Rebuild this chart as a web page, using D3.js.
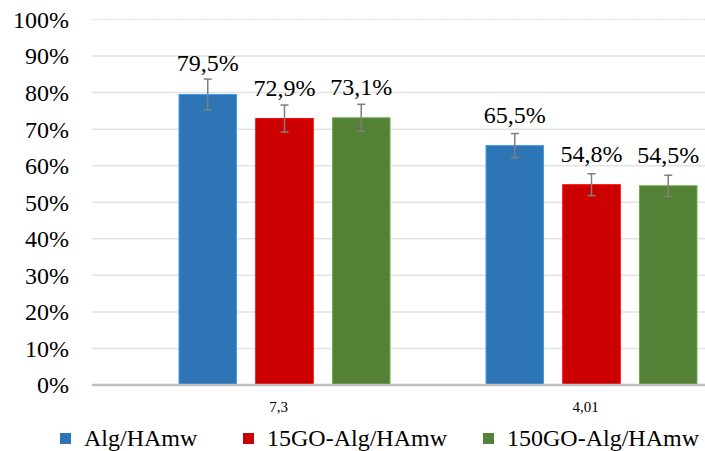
<!DOCTYPE html>
<html>
<head>
<meta charset="utf-8">
<script src="https://cdn.jsdelivr.net/npm/d3@7"></script>
<style>
  html, body { margin: 0; padding: 0; background: #fff; }
  svg text { font-family: 'Liberation Serif', 'Times New Roman', Times, serif; }
</style>
</head>
<body>
<svg id="chart" width="705" height="451"></svg>
<script>
const categories = ["7,3", "4,01"];
const seriesNames = ["Alg/HAmw", "15GO-Alg/HAmw", "150GO-Alg/HAmw"];
const seriesColors = ["#2E75B6", "#CC0000", "#538135"];
const valuesAlg = [79.5, 65.5];
const values15GO = [72.9, 54.8];
const values150GO = [73.1, 54.5];
const errorsAlg = [4.2, 3.3];
const errors15GO = [3.7, 3.0];
const errors150GO = [3.7, 2.9];
const labelsAlg = ["79,5%", "65,5%"];
const labels15GO = ["72,9%", "54,8%"];
const labels150GO = ["73,1%", "54,5%"];
const yTicks = [0, 10, 20, 30, 40, 50, 60, 70, 80, 90, 100];

const seriesValues = [valuesAlg, values15GO, values150GO];
const seriesErrors = [errorsAlg, errors15GO, errors150GO];
const seriesLabels = [labelsAlg, labels15GO, labels150GO];

const data = [];
categories.forEach((c, ci) => {
  seriesNames.forEach((s, si) => {
    data.push({cat: c, series: s, si, value: seriesValues[si][ci], err: seriesErrors[si][ci], label: seriesLabels[si][ci]});
  });
});

const FONT = "'Liberation Serif', 'Times New Roman', serif";
const svg = d3.select("#chart");
const plotLeft = 92, plotRight = 705;

const y = d3.scaleLinear().domain([0, 100]).range([385, 19.5]);
const x0 = d3.scaleBand().domain(categories).range([131, 745]).padding(0);
const x1 = d3.scaleBand().domain(seriesNames).range([48, 259]).paddingInner(0.25).paddingOuter(0);
const color = d3.scaleOrdinal().domain(seriesNames).range(seriesColors);

// gridlines
svg.append("g").selectAll("line").data(yTicks.filter(t => t > 0)).join("line")
  .attr("x1", plotLeft).attr("x2", plotRight)
  .attr("y1", d => y(d)).attr("y2", d => y(d))
  .attr("stroke", "#e3e3e3").attr("stroke-width", 1.5)
  .attr("stroke-dasharray", d => d === 100 ? "2,1" : null);

// y axis labels
const yAxis = d3.axisLeft(y).tickValues(yTicks).tickFormat(d => d + "%").tickSize(0).tickPadding(0);
const yg = svg.append("g").attr("transform", `translate(69,0)`).call(yAxis);
yg.attr("font-family", FONT).attr("font-size", 24);
yg.select(".domain").remove();
yg.selectAll("text").style("font-family", FONT).style("font-size", "24px").attr("fill", "#000")
  .attr("dy", "0.33em");

// bars
const groups = svg.append("g").selectAll("g").data(data).join("g")
  .attr("transform", d => `translate(${x0(d.cat) + x1(d.series)},0)`);

groups.append("rect")
  .attr("x", 0).attr("width", x1.bandwidth())
  .attr("y", d => y(d.value)).attr("height", d => y(0) - y(d.value))
  .attr("fill", d => color(d.series))
  .attr("stroke", d => d3.color(color(d.series)).brighter(0.8))
  .attr("stroke-width", 1);

// baseline
svg.append("line").attr("x1", plotLeft).attr("x2", plotRight)
  .attr("y1", y(0)).attr("y2", y(0)).attr("stroke", "#bfbfbf").attr("stroke-width", 2.5);

// error bars
const bw = x1.bandwidth();
groups.append("line")
  .attr("x1", bw / 2).attr("x2", bw / 2)
  .attr("y1", d => y(d.value + d.err)).attr("y2", d => y(d.value - d.err))
  .attr("stroke", "#7f7f7f").attr("stroke-width", 1.5);
groups.append("line")
  .attr("x1", bw / 2 - 4).attr("x2", bw / 2 + 4)
  .attr("y1", d => y(d.value + d.err)).attr("y2", d => y(d.value + d.err))
  .attr("stroke", "#7f7f7f").attr("stroke-width", 1.5);
groups.append("line")
  .attr("x1", bw / 2 - 4).attr("x2", bw / 2 + 4)
  .attr("y1", d => y(d.value - d.err)).attr("y2", d => y(d.value - d.err))
  .attr("stroke", "#7f7f7f").attr("stroke-width", 1.5);

// data labels
groups.append("text")
  .attr("x", bw / 2).attr("y", d => y(d.value) - 23)
  .attr("text-anchor", "middle").style("font-family", FONT).style("font-size", "24px").attr("fill", "#000")
  .text(d => d.label);

// category labels
svg.append("g").selectAll("text").data(categories).join("text")
  .attr("x", d => x0(d) + x0.bandwidth() / 2 - 6)
  .attr("y", 412)
  .attr("text-anchor", "middle").style("font-family", FONT).style("font-size", "15px").attr("fill", "#000")
  .text(d => d);

// legend
const legendX = [60, 243, 483];
const lg = svg.append("g").selectAll("g").data(seriesNames).join("g")
  .attr("transform", (d, i) => `translate(${legendX[i]},0)`);
lg.append("rect").attr("x", 0).attr("y", 433).attr("width", 11).attr("height", 11)
  .attr("fill", d => color(d));
lg.append("text").attr("x", 24).attr("y", 446).style("font-family", FONT).style("font-size", "24px").attr("fill", "#000")
  .text(d => d);
</script>
</body>
</html>
